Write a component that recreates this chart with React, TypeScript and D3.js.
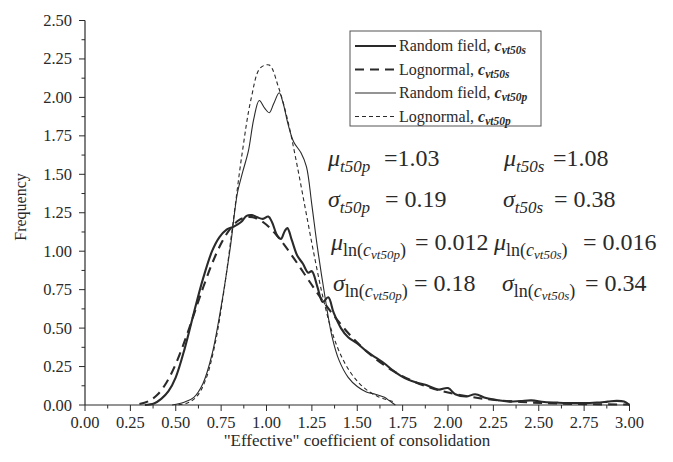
import React from "react";
import * as d3 from "d3";

// Random field, c_vt50s (thick solid)
const rfSX = [0.33,0.38,0.42,0.46,0.50,0.55,0.60,0.65,0.70,0.74,0.78,0.82,0.86,0.89,0.92,0.95,0.98,1.01,1.03,1.06,1.08,1.10,1.115,1.14,1.17,1.20,1.23,1.25,1.28,1.31,1.34,1.37,1.41,1.45,1.50,1.55,1.60,1.65,1.69,1.74,1.78,1.83,1.88,1.92,1.95,2.00,2.04,2.10,2.15,2.21,2.28,2.34,2.40,2.46,2.53,2.61,2.68,2.75,2.82,2.88,2.93,2.97,3.00];
const rfSY = [0.0,0.01,0.04,0.09,0.18,0.37,0.60,0.82,1.00,1.09,1.14,1.16,1.19,1.23,1.235,1.22,1.21,1.225,1.19,1.10,1.08,1.13,1.15,1.07,0.97,0.92,0.86,0.87,0.77,0.67,0.70,0.60,0.50,0.44,0.40,0.35,0.31,0.27,0.23,0.19,0.165,0.145,0.13,0.11,0.10,0.11,0.07,0.055,0.07,0.045,0.03,0.022,0.026,0.03,0.02,0.015,0.013,0.012,0.016,0.022,0.027,0.022,0.0];

// Lognormal, c_vt50s (thick dashed)
const lnSX = [0.30,0.35,0.40,0.45,0.50,0.55,0.60,0.65,0.70,0.75,0.80,0.85,0.90,0.95,1.00,1.05,1.10,1.15,1.20,1.25,1.30,1.35,1.40,1.45,1.50,1.60,1.70,1.80,1.90,2.00,2.20,2.40,2.60,2.80,3.00];
const lnSY = [0.006,0.025,0.068,0.148,0.267,0.418,0.589,0.761,0.919,1.050,1.145,1.203,1.223,1.211,1.172,1.112,1.038,0.955,0.868,0.780,0.694,0.613,0.538,0.468,0.406,0.301,0.220,0.159,0.114,0.081,0.040,0.020,0.010,0.005,0.003];

// Random field, c_vt50p (thin solid)
const rfPX = [0.48,0.55,0.60,0.65,0.70,0.75,0.80,0.84,0.87,0.90,0.93,0.96,0.99,1.015,1.04,1.07,1.09,1.12,1.15,1.19,1.22,1.25,1.28,1.32,1.36,1.40,1.45,1.50,1.55,1.60,1.65,1.68,1.71];
const rfPY = [0.0,0.02,0.05,0.14,0.33,0.64,1.02,1.38,1.52,1.65,1.86,1.98,1.93,1.90,1.96,2.03,1.97,1.82,1.71,1.64,1.55,1.30,1.03,0.72,0.45,0.29,0.18,0.12,0.085,0.07,0.05,0.025,0.0];

// Lognormal, c_vt50p (thin dashed)
const lnPX = [0.515,0.565,0.615,0.665,0.715,0.765,0.815,0.865,0.915,0.965,1.015,1.065,1.115,1.165,1.215,1.265,1.315,1.365,1.415,1.465,1.515,1.565,1.615,1.665,1.70];
const lnPY = [0.002,0.013,0.054,0.165,0.388,0.739,1.18,1.63,1.99,2.19,2.21,2.07,1.86,1.58,1.27,0.96,0.68,0.46,0.31,0.208,0.136,0.087,0.054,0.034,0.022];

const xTicks = [0,0.25,0.5,0.75,1,1.25,1.5,1.75,2,2.25,2.5,2.75,3];
const yTicks = [0,0.25,0.5,0.75,1,1.25,1.5,1.75,2,2.25,2.5];

const legendLabels = ["Random field, ", "Lognormal, ", "Random field, ", "Lognormal, "];
const legendSubs = ["vt50s", "vt50s", "vt50p", "vt50p"];

const FONT = "Liberation Serif, Times New Roman, DejaVu Serif, serif";

export default function App() {
  const W = 673, H = 462;
  const x = d3.scaleLinear().domain([0, 3]).range([85, 629.5]);
  const y = d3.scaleLinear().domain([0, 2.5]).range([405, 20.5]);
  const line = d3.line<[number, number]>()
    .x(d => x(d[0])).y(d => y(d[1]))
    .curve(d3.curveCatmullRom.alpha(0.5));
  const zip = (a: number[], b: number[]) => a.map((v, i) => [v, b[i]] as [number, number]);

  const series = [
    { d: zip(rfSX, rfSY), w: 2.1, dash: "" },
    { d: zip(lnSX, lnSY), w: 2.1, dash: "9,6" },
    { d: zip(rfPX, rfPY), w: 1.1, dash: "" },
    { d: zip(lnPX, lnPY), w: 1.1, dash: "4,3" },
  ];

  const xMinor = d3.range(0, 3.001, 0.125);
  const yMinor = d3.range(0, 2.501, 0.125);
  const ink = "#2a2a2a";

  const sub = (t: string) => (
    <tspan fontSize={17} fontStyle="italic" dy={6}>{t}</tspan>
  );
  const lnSub = (t: string) => [
    <tspan key="a" fontSize={18} dy={6}>ln(</tspan>,
    <tspan key="b" fontSize={18} fontStyle="italic">c</tspan>,
    <tspan key="c" fontSize={13} fontStyle="italic" dy={3}>{t}</tspan>,
    <tspan key="d" fontSize={18} dy={-3}>)</tspan>,
  ];
  const T = (props: any) => <text fontFamily={FONT} fill={ink} {...props} />;

  return (
    <svg width={W} height={H} style={{ position: "absolute", left: 0, top: 0, background: "#fff" }} fontFamily={FONT}>
      {/* axes */}
      <line x1={x(0)} x2={x(3)} y1={y(0)} y2={y(0)} stroke={ink} strokeWidth={1.2} />
      <line x1={x(0)} x2={x(0)} y1={y(0)} y2={y(2.5)} stroke={ink} strokeWidth={1.2} />
      {xMinor.map((t, i) => (
        <line key={"xm" + i} x1={x(t)} x2={x(t)} y1={y(0)} y2={y(0) + (i % 2 === 0 ? 6 : 3.5)} stroke={ink} strokeWidth={1} />
      ))}
      {yMinor.map((t, i) => (
        <line key={"ym" + i} x1={x(0) - (i % 2 === 0 ? 6 : 3.5)} x2={x(0)} y1={y(t)} y2={y(t)} stroke={ink} strokeWidth={1} />
      ))}
      {xTicks.map(t => (
        <T key={"xt" + t} x={x(t)} y={428} textAnchor="middle" fontSize={16.5}>{t.toFixed(2)}</T>
      ))}
      {yTicks.map(t => (
        <T key={"yt" + t} x={72} y={y(t) + 5.5} textAnchor="end" fontSize={16.5}>{t.toFixed(2)}</T>
      ))}
      <T x={357} y={446} textAnchor="middle" fontSize={17}>"Effective" coefficient of consolidation</T>
      <T transform={`translate(26,207) rotate(-90)`} textAnchor="middle" fontSize={16}>Frequency</T>

      {/* curves */}
      {series.map((s, i) => (
        <path key={i} d={line(s.d) || ""} fill="none" stroke={ink} strokeWidth={s.w} strokeDasharray={s.dash} strokeLinejoin="round" />
      ))}

      {/* legend */}
      <rect x={350} y={31} width={191} height={95} fill="#fff" stroke="#555" strokeWidth={1} />
      {legendLabels.map((lab, i) => {
        const yy = 46 + i * 23.5;
        const s = series[i];
        return (
          <g key={"lg" + i}>
            <line x1={355} x2={396} y1={yy} y2={yy} stroke={ink} strokeWidth={s.w} strokeDasharray={s.dash} />
            <T x={399} y={yy + 5} fontSize={16}>
              {lab}
              <tspan fontWeight="bold" fontStyle="italic">c</tspan>
              <tspan fontWeight="bold" fontStyle="italic" fontSize={11.5} dy={3}>{legendSubs[i]}</tspan>
            </T>
          </g>
        );
      })}

      {/* annotations */}
      <g fontSize={24}>
        <T x={328} y={166} fontSize={24}><tspan fontStyle="italic">μ</tspan>{sub("t50p")}</T>
        <T x={384} y={166} fontSize={24}>=1.03</T>
        <T x={504} y={166} fontSize={24}><tspan fontStyle="italic">μ</tspan>{sub("t50s")}</T>
        <T x={553} y={166} fontSize={24}>=1.08</T>

        <T x={328} y={207} fontSize={24}><tspan fontStyle="italic">σ</tspan>{sub("t50p")}</T>
        <T x={385} y={207} fontSize={24}>= 0.19</T>
        <T x={503} y={207} fontSize={24}><tspan fontStyle="italic">σ</tspan>{sub("t50s")}</T>
        <T x={554} y={207} fontSize={24}>= 0.38</T>

        <T x={331} y={250} fontSize={24}><tspan fontStyle="italic">μ</tspan>{lnSub("vt50p")}</T>
        <T x={415} y={250} fontSize={24}>= 0.012</T>
        <T x={494} y={250} fontSize={24}><tspan fontStyle="italic">μ</tspan>{lnSub("vt50s")}</T>
        <T x={583} y={250} fontSize={24}>= 0.016</T>

        <T x={333} y={291} fontSize={24}><tspan fontStyle="italic">σ</tspan>{lnSub("vt50p")}</T>
        <T x={414} y={291} fontSize={24}>= 0.18</T>
        <T x={502} y={291} fontSize={24}><tspan fontStyle="italic">σ</tspan>{lnSub("vt50s")}</T>
        <T x={585} y={291} fontSize={24}>= 0.34</T>
      </g>
    </svg>
  );
}
